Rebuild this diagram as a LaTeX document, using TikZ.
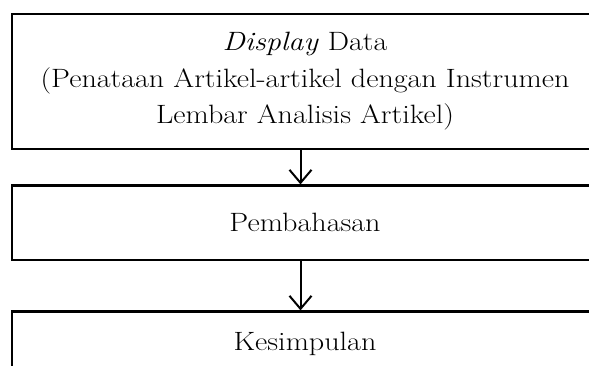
\documentclass[tikz,border=0pt]{standalone}
\usepackage{fontspec}
\setmainfont{Latin Modern Roman}[FakeStretch=1.135]
\usetikzlibrary{arrows.meta}
\begin{document}
\begin{tikzpicture}[x=1pt,y=1pt,
  box/.style={draw=black,line width=2.2pt,rectangle,minimum width=586pt,inner sep=0pt,align=center,
    font=\fontsize{26.5}{36.5}\selectfont},
  flow/.style={line width=2pt,-{Straight Barb[length=13pt,width=22pt,line width=2pt]}}]
\useasboundingbox (0,0) rectangle (589,365);
\clip (0,0) rectangle (589,365);
\node[box,minimum height=134.5pt] (b1) at (305,283.5) {\textit{Display} Data\\(Penataan Artikel-artikel dengan Instrumen\\Lembar Analisis Artikel)};
\node[box,minimum height=74.5pt] (b2) at (305,142.25) {Pembahasan};
\node[box,minimum height=65pt] (b3) at (305,21) {Kesimpulan};
\draw[flow] (b1.south -| 300.5,0) -- (b2.north -| 300.5,0);
\draw[flow] (b2.south -| 300.5,0) -- (b3.north -| 300.5,0);
\end{tikzpicture}
\end{document}
